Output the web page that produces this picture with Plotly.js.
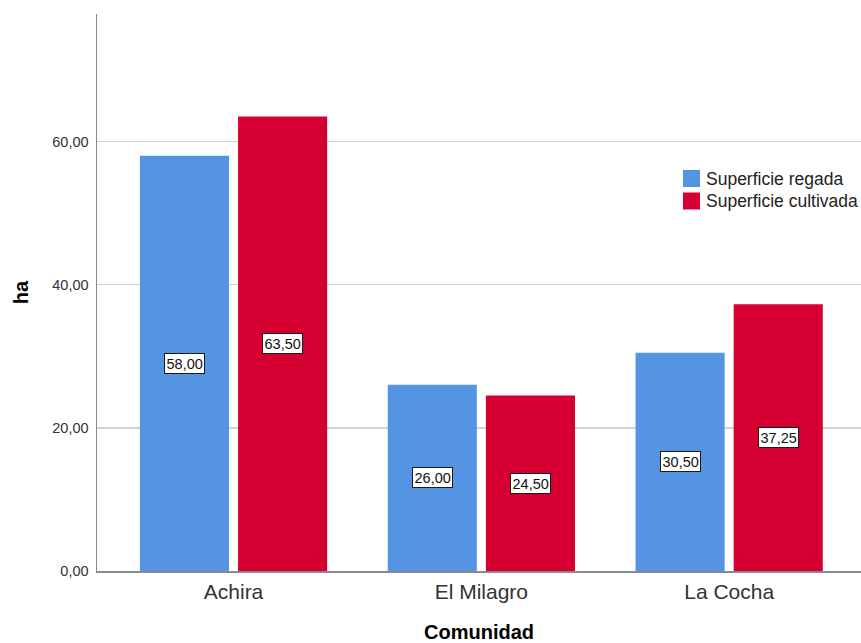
<!DOCTYPE html>
<html>
<head>
<meta charset="utf-8">
<script src="https://cdn.plot.ly/plotly-3.0.1.min.js"></script>
<style>
  html, body { margin: 0; padding: 0; background: #ffffff; }
  #chart { width: 861px; height: 643px; }
</style>
</head>
<body>
<div id="chart"></div>
<script>
// Superficie por comunidad (ha)
const comunidades = ['Achira', 'El Milagro', 'La Cocha'];
const superficieRegada = [58.00, 26.00, 30.50];
const superficieCultivada = [63.50, 24.50, 37.25];
const nombresSeries = ['Superficie regada', 'Superficie cultivada'];
const ejeYValores = [0, 20, 40, 60];

const colores = ['#5594e2', '#d50031'];
const FONT = '"Liberation Sans", Arial, sans-serif';

const W = 861, H = 643;
const M = { l: 97, r: 0, t: 14, b: 72 };
const plotW = W - M.l - M.r;
const plotH = H - M.t - M.b;

const BARGAP = 0.208;
const BARGROUPGAP = 0.092;
// centre of each bar inside its group, in category units
const slot = (1 - BARGAP) / 2;
const desplaz = [-slot / 2, slot / 2];

const series = [superficieRegada, superficieCultivada];

const traces = series.map((vals, s) => ({
  type: 'bar',
  name: nombresSeries[s],
  x: comunidades,
  y: vals,
  marker: { color: colores[s], line: { width: 0 } },
  showlegend: false,
  hoverinfo: 'x+y+name'
}));

const fmt = v => v.toFixed(2).replace('.', ',');

// value labels, boxed, at the middle of each bar
const annotations = [];
series.forEach((vals, s) => {
  vals.forEach((v, i) => {
    annotations.push({
      x: i + desplaz[s],
      y: v / 2,
      xref: 'x',
      yref: 'y',
      text: fmt(v),
      showarrow: false,
      bgcolor: '#ffffff',
      bordercolor: '#1a1a1a',
      borderwidth: 1,
      borderpad: 1.5,
      font: { family: FONT, size: 14.5, color: '#111111' }
    });
  });
});

// key: coloured squares with series names, placed in pixel terms
const px = x => (x - M.l) / plotW;
const py = y => (H - M.b - y) / plotH;
const KEY = { left: 683, top: 170, size: 17, step: 22.5, textGap: 4 };
const shapes = [];
nombresSeries.forEach((n, s) => {
  const top = KEY.top + s * KEY.step;
  shapes.push({
    type: 'rect',
    xref: 'paper', yref: 'paper',
    x0: px(KEY.left), x1: px(KEY.left + KEY.size),
    y0: py(top + KEY.size), y1: py(top),
    fillcolor: colores[s],
    line: { width: 0 }
  });
  annotations.push({
    xref: 'paper', yref: 'paper',
    x: px(KEY.left + KEY.size + KEY.textGap),
    y: py(top + KEY.size / 2),
    xanchor: 'left', yanchor: 'middle',
    text: n,
    showarrow: false,
    font: { family: FONT, size: 17.5, color: '#222222' }
  });
});

const layout = {
  width: W,
  height: H,
  margin: { l: M.l, r: M.r, t: M.t, b: M.b, pad: 0 },
  paper_bgcolor: '#ffffff',
  plot_bgcolor: '#ffffff',
  font: { family: FONT, color: '#222222' },
  separators: ',.',
  barmode: 'group',
  bargap: BARGAP,
  bargroupgap: BARGROUPGAP,
  showlegend: false,
  xaxis: {
    type: 'category',
    range: [-0.551, 2.532],
    showline: true,
    linecolor: '#8a8a8a',
    linewidth: 1.5,
    showgrid: false,
    zeroline: false,
    ticks: '',
    ticklabelstandoff: 1,
    tickfont: { family: FONT, size: 21, color: '#333333' },
    automargin: false,
    fixedrange: true,
    title: {
      text: 'Comunidad',
      font: { family: FONT, size: 20, color: '#000000', weight: 'bold' },
      standoff: 28
    }
  },
  yaxis: {
    range: [0, 77.8],
    tickvals: ejeYValores,
    tickformat: '.2f',
    showline: true,
    linecolor: '#8a8a8a',
    linewidth: 1.5,
    showgrid: true,
    gridcolor: '#d2d2d2',
    gridwidth: 1.5,
    zeroline: false,
    ticks: '',
    ticklabelstandoff: 4,
    tickfont: { family: FONT, size: 14.5, color: '#333333' },
    automargin: false,
    fixedrange: true,
    title: {
      text: 'ha',
      font: { family: FONT, size: 20, color: '#000000', weight: 'bold' },
      standoff: 18
    }
  },
  shapes: shapes,
  annotations: annotations
};

Plotly.newPlot('chart', traces, layout, { displayModeBar: false, staticPlot: true });
</script>
</body>
</html>
